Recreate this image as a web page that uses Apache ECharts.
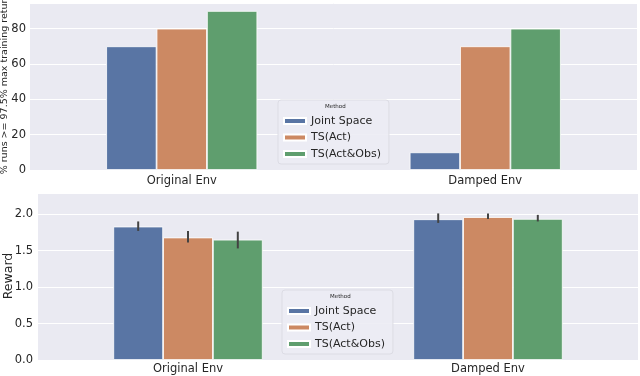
<!DOCTYPE html>
<html>
<head>
<meta charset="utf-8">
<script src="https://cdn.jsdelivr.net/npm/echarts@6/dist/echarts.min.js"></script>
<style>
  html, body { margin: 0; padding: 0; background: #fff; }
  #chart { width: 640px; height: 376px; }
</style>
</head>
<body>
<div id="chart"></div>
<script>
const categories = ['Original Env', 'Damped Env'];
const methods = ['Joint Space', 'TS(Act)', 'TS(Act&Obs)'];
const colors = ['#5975a4', '#cc8963', '#5f9e6e'];

// top panel: % runs >= 97.5% max training return
const successJoint = [70, 10];
const successAct = [80, 70];
const successActObs = [90, 80];
const successTicks = [0, 20, 40, 60, 80];

// bottom panel: reward mean and error bar low/high
const rewardJoint = [1.83, 1.93];
const rewardAct = [1.68, 1.96];
const rewardActObs = [1.65, 1.935];
const errLowJoint = [1.77, 1.88];
const errHighJoint = [1.90, 2.01];
const errLowAct = [1.61, 1.935];
const errHighAct = [1.77, 2.01];
const errLowActObs = [1.53, 1.90];
const errHighActObs = [1.76, 1.99];
const rewardTicks = [0, 0.5, 1.0, 1.5, 2.0];

const font = 'DejaVu Sans';
const textColor = '#262626';
const bgColor = '#eaeaf2';

const successSeries = [successJoint, successAct, successActObs];
const rewardSeries = [rewardJoint, rewardAct, rewardActObs];
const errLow = [errLowJoint, errLowAct, errLowActObs];
const errHigh = [errHighJoint, errHighAct, errHighActObs];

// custom series data: [category, methodIndex, low, high]
const errData = [];
errLow.forEach((lows, m) => {
  lows.forEach((lo, c) => {
    errData.push([c, m, lo, errHigh[m][c]]);
  });
});

const BAR_FRAC = 0.166;

function renderErr(params, api) {
  const c = api.value(0);
  const m = api.value(1);
  const bandW = api.size([1, 0])[0];
  const off = (m - 1) * bandW * BAR_FRAC;
  const lo = api.coord([c, api.value(2)]);
  const hi = api.coord([c, api.value(3)]);
  return {
    type: 'line',
    shape: { x1: lo[0] + off, y1: lo[1], x2: hi[0] + off, y2: hi[1] },
    style: { stroke: '#424242', lineWidth: 2 }
  };
}

const yAxisCommon = {
  type: 'value',
  axisLine: { show: false },
  axisTick: { show: false },
  splitLine: { lineStyle: { color: '#fff', width: 1 } }
};

const xAxisCommon = {
  type: 'category',
  data: categories,
  axisLine: { show: false },
  axisTick: { show: false },
  splitLine: { show: false },
  axisLabel: { fontFamily: font, fontSize: 11.5, color: textColor }
};

function legendFor(left, top) {
  return {
    orient: 'vertical',
    left: left,
    top: top,
    data: methods,
    itemWidth: 22,
    itemHeight: 6,
    itemGap: 4.5,
    icon: 'rect',
    padding: [15, 8, 4, 5],
    backgroundColor: 'rgba(236,236,244,0.9)',
    borderColor: '#dcdce4',
    borderWidth: 1,
    borderRadius: 3,
    textStyle: { fontFamily: font, fontSize: 11, color: textColor, lineHeight: 12 }
  };
}

function axisName(text, x, y, size) {
  return {
    type: 'text',
    x: x,
    y: y,
    rotation: Math.PI / 2,
    style: {
      text: text, fontFamily: font, fontSize: size, fill: textColor,
      align: 'center', verticalAlign: 'middle'
    }
  };
}

const series = [];
methods.forEach((name, i) => {
  series.push({
    name: name,
    type: 'bar',
    xAxisIndex: 0,
    yAxisIndex: 0,
    data: successSeries[i],
    barWidth: '16.6%',
    barGap: '0%',
    itemStyle: { color: colors[i], borderColor: '#fff', borderWidth: 0.8 }
  });
});
methods.forEach((name, i) => {
  series.push({
    name: name,
    type: 'bar',
    xAxisIndex: 1,
    yAxisIndex: 1,
    data: rewardSeries[i],
    barWidth: '16.6%',
    barGap: '0%',
    itemStyle: { color: colors[i], borderColor: '#fff', borderWidth: 0.8 }
  });
});
series.push({
  type: 'custom',
  xAxisIndex: 1,
  yAxisIndex: 1,
  renderItem: renderErr,
  data: errData,
  z: 10,
  silent: true
});

const chart = echarts.init(document.getElementById('chart'), null, { renderer: 'canvas' });
chart.setOption({
  animation: false,
  backgroundColor: '#fff',
  color: colors,
  grid: [
    { left: 30, right: 3, top: 3, bottom: 206, backgroundColor: bgColor, show: true, borderWidth: 0, outerBoundsMode: 'none', containLabel: false },
    { left: 38, right: 2, top: 193, bottom: 16, backgroundColor: bgColor, show: true, borderWidth: 0, outerBoundsMode: 'none', containLabel: false }
  ],
  xAxis: [
    Object.assign({}, xAxisCommon, { gridIndex: 0, axisLabel: Object.assign({}, xAxisCommon.axisLabel, { margin: 5 }) }),
    Object.assign({}, xAxisCommon, { gridIndex: 1, axisLabel: Object.assign({}, xAxisCommon.axisLabel, { margin: 3 }) })
  ],
  yAxis: [
    Object.assign({}, yAxisCommon, {
      gridIndex: 0, min: 0, max: 94.5, interval: 20,
      axisLabel: {
        fontFamily: font, fontSize: 11.5, color: textColor, margin: 4,
        customValues: successTicks
      }
    }),
    Object.assign({}, yAxisCommon, {
      gridIndex: 1, min: 0, max: 2.29, interval: 0.5,
      axisLabel: {
        fontFamily: font, fontSize: 11.5, color: textColor, margin: 5,
        customValues: rewardTicks,
        formatter: v => v.toFixed(1)
      }
    })
  ],
  legend: [legendFor(278, 100), legendFor(282, 290)],
  title: [
    { text: 'Method', left: 325, top: 104, textStyle: { fontFamily: font, fontSize: 5.5, fontWeight: 'normal', color: textColor }, padding: 0 },
    { text: 'Method', left: 330, top: 294, textStyle: { fontFamily: font, fontSize: 5.5, fontWeight: 'normal', color: textColor }, padding: 0 }
  ],
  graphic: [
    axisName('% runs >= 97.5% max training return', 5, 84, 9.5),
    axisName('Reward', 9, 276, 12.5)
  ],
  series: series
});
</script>
</body>
</html>
